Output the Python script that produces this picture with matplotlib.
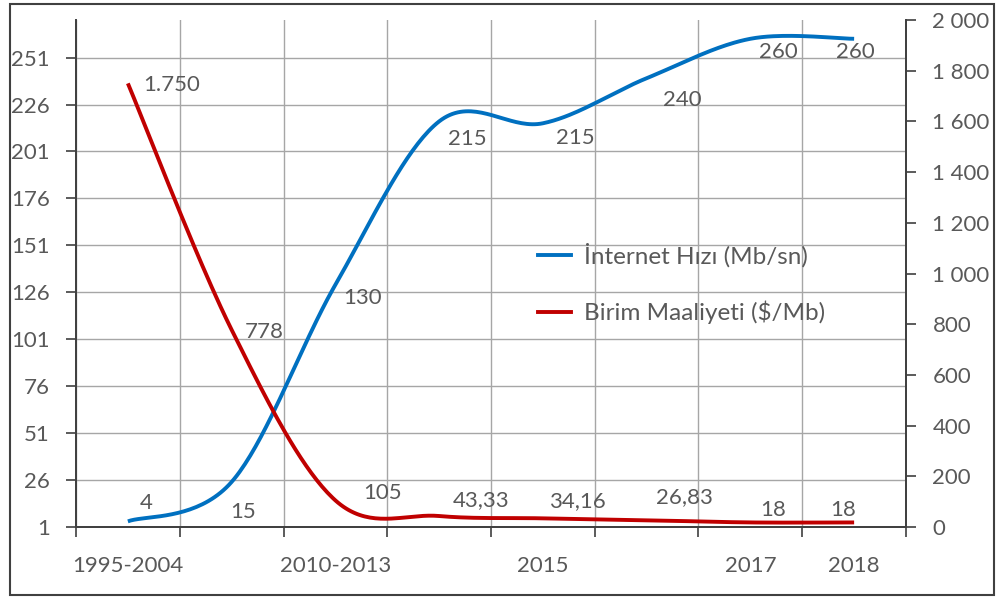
import numpy as np
import matplotlib
matplotlib.use("Agg")
import matplotlib.pyplot as plt
from matplotlib.lines import Line2D
from matplotlib.patches import Rectangle

plt.rcParams['font.family'] = ['Lato', 'DejaVu Sans']

# ---- data ----
categories = ['1995-2004', '', '2010-2013', '', '2015', '', '2017', '2018']
# values as drawn by the line (left axis, Mb/sn)
internet_speed = [4, 25, 130, 217, 216, 240, 261, 261]
# data labels as printed on the chart
internet_labels = ['4', '15', '130', '215', '215', '240', '260', '260']
unit_cost = [1750, 778, 105, 43.33, 34.16, 26.83, 18, 18]        # $/Mb (right axis)
unit_cost_labels = ['1.750', '778', '105', '43,33', '34,16', '26,83', '18', '18']
left_ticks = [1, 26, 51, 76, 101, 126, 151, 176, 201, 226, 251]
right_ticks = [0, 200, 400, 600, 800, 1000, 1200, 1400, 1600, 1800, 2000]
series_names = ['İnternet Hızı (Mb/sn)', 'Birim Maaliyeti ($/Mb)']

# ---- style ----
BLUE = '#0070C0'
RED = '#C00000'
TXT = '#595959'
GRID = '#a6a6a6'
SPINE = '#404040'
FS = 16

# label offsets in pixels (style only)
blue_off = [(18, 18), (11, -30), (27, -13), (28, -18), (32, -15), (36, -22), (28, -13), (1, -13)]
red_off = [(44, -2), (33, -2), (47, 7), (42, 16), (35, 17), (38, 23), (23, 12), (-11, 12)]


def catmull(xs, ys, n=40):
    xs = np.asarray(xs, float)
    ys = np.asarray(ys, float)
    P = np.column_stack([xs, ys])
    P_ext = np.vstack([P[0], P, P[-1]])
    out = []
    for i in range(len(P) - 1):
        p0, p1, p2, p3 = P_ext[i], P_ext[i + 1], P_ext[i + 2], P_ext[i + 3]
        c1 = p1 + (p2 - p0) / 6.0
        c2 = p2 - (p3 - p1) / 6.0
        t = np.linspace(0, 1, n)[:, None]
        seg = ((1 - t) ** 3) * p1 + 3 * ((1 - t) ** 2) * t * c1 + 3 * (1 - t) * t ** 2 * c2 + t ** 3 * p2
        out.append(seg if i == 0 else seg[1:])
    S = np.vstack(out)
    return S[:, 0], S[:, 1]


fig = plt.figure(figsize=(10, 5.99), dpi=100)
fig.patches.append(Rectangle((0.0095, 0.0075), 0.984, 0.986, transform=fig.transFigure,
                             fill=False, edgecolor='#404040', linewidth=1.5))

ax = fig.add_axes([0.076, 0.1202, 0.830, 0.8464])
ax2 = ax.twinx()

x = np.arange(len(categories))
ax.set_xlim(-0.5, len(categories) - 0.5)
ax.set_ylim(1, 271)
ax2.set_ylim(0, 2000)

bx, by = catmull(x, internet_speed)
ax.plot(bx, by, color=BLUE, lw=2.8, solid_capstyle='butt', zorder=3)
rx, ry = catmull(x, unit_cost)
ax2.plot(rx, ry, color=RED, lw=2.8, solid_capstyle='butt', zorder=3)

for xi, v, lab, off in zip(x, internet_speed, internet_labels, blue_off):
    ax.annotate(lab, (xi, v), xytext=off, textcoords='offset pixels',
                ha='center', va='center', fontsize=FS, color=TXT)
for xi, v, lab, off in zip(x, unit_cost, unit_cost_labels, red_off):
    ax2.annotate(lab, (xi, v), xytext=off, textcoords='offset pixels',
                 ha='center', va='center', fontsize=FS, color=TXT)

# axes styling
ax.set_yticks(left_ticks)
ax.set_yticklabels([str(t) for t in left_ticks])
ax2.set_yticks(right_ticks)
ax2.set_yticklabels([f"{t:,}".replace(',', ' ') for t in right_ticks])

ax.set_xticks(np.arange(-0.5, len(categories)), minor=False)
ax.set_xticklabels([])
ax.set_xticks(x, minor=True)
ax.set_xticklabels(categories, minor=True)

ax.tick_params(axis='x', which='major', length=7, width=1.2, color=SPINE, direction='out')
ax.tick_params(axis='x', which='minor', length=0, pad=21, labelsize=FS, labelcolor=TXT)
ax.tick_params(axis='y', length=7, width=1.2, color=SPINE, pad=12, labelsize=FS, labelcolor=TXT)
ax2.tick_params(axis='y', length=7, width=1.2, color=SPINE, pad=12, labelsize=FS, labelcolor=TXT)

ax.grid(True, which='major', axis='both', color=GRID, lw=1.0)
ax.set_axisbelow(True)

for a in (ax, ax2):
    a.spines['top'].set_visible(False)
    for s in ('left', 'right', 'bottom'):
        a.spines[s].set_color(SPINE)
        a.spines[s].set_linewidth(1.3)

handles = [Line2D([], [], color=BLUE, lw=2.8), Line2D([], [], color=RED, lw=2.8)]
leg = ax2.legend(handles, series_names, loc='center left', bbox_to_anchor=(0.557, 0.48),
                 frameon=False, fontsize=17.5, handlelength=1.35, handletextpad=0.55,
                 labelspacing=1.35, borderpad=0, borderaxespad=0)
for t in leg.get_texts():
    t.set_color(TXT)

fig.savefig('out.png', dpi=100)
